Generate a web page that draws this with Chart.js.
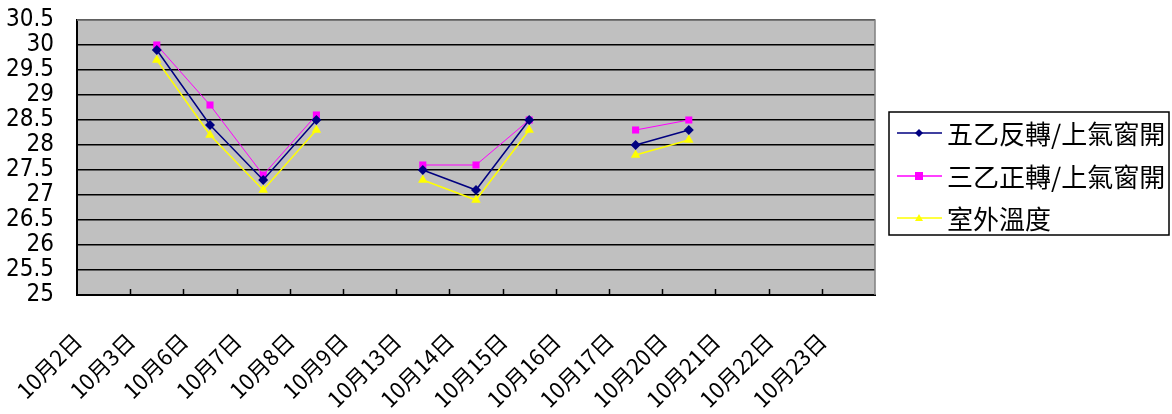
<!DOCTYPE html>
<html lang="zh-Hant">
<head>
<meta charset="utf-8">
<title>溫度比較</title>
<script src="https://cdn.jsdelivr.net/npm/chart.js"></script>
<style>
    html, body { margin: 0; padding: 0; background: #fff; }
    #chartContainer { width: 1172px; height: 414px; position: relative; }
</style>
</head>
<body>

<div id="chartContainer">
    <canvas id="tempChart"></canvas>
</div>

<script>
// categories (x axis)
const dates = ['10月2日', '10月3日', '10月6日', '10月7日', '10月8日', '10月9日', '10月13日',
               '10月14日', '10月15日', '10月16日', '10月17日', '10月20日', '10月21日', '10月22日', '10月23日'];

// series names
const seriesNames = ['五乙反轉/上氣窗開', '三乙正轉/上氣窗開', '室外溫度'];

// values (null = no reading that day)
const wuYiFan   = [null, 29.9, 28.4, 27.3, 28.5, null, 27.5, 27.1, 28.5, null, 28.0, 28.3, null, null, null];
const sanYiZheng = [null, 30.0, 28.8, 27.4, 28.6, null, 27.6, 27.6, 28.5, null, 28.3, 28.5, null, null, null];
const outdoor   = [null, 29.7, 28.2, 27.1, 28.3, null, 27.3, 26.9, 28.3, null, 27.8, 28.1, null, null, null];

// y axis ticks
const yMin = 25;
const yMax = 30.5;
const yStep = 0.5;

// grey plot area + frame
const plotArea = {
    id: 'plotArea',
    beforeDraw(chart) {
        const { ctx, chartArea: a } = chart;
        ctx.save();
        ctx.fillStyle = '#c0c0c0';
        ctx.fillRect(a.left, a.top, a.right - a.left, a.bottom - a.top);
        ctx.restore();
    },
    beforeDatasetsDraw(chart) {
        const { ctx, chartArea: a } = chart;
        ctx.save();
        ctx.strokeStyle = '#808080';
        ctx.lineWidth = 1.5;
        ctx.beginPath();
        ctx.moveTo(a.left, a.top);
        ctx.lineTo(a.right, a.top);
        ctx.lineTo(a.right, a.bottom);
        ctx.stroke();
        // small tick marks pointing up from the x axis, between categories
        const x = chart.scales.x;
        ctx.strokeStyle = '#000';
        ctx.lineWidth = 1.5;
        ctx.beginPath();
        for (let i = 1; i < dates.length; i++) {
            const px = Math.round(x.getPixelForValue(i - 0.5)) + 0.5;
            ctx.moveTo(px, a.bottom);
            ctx.lineTo(px, a.bottom - 6);
        }
        ctx.stroke();
        ctx.restore();
    }
};

// Excel style legend with a border
function drawMarker(ctx, style, x, y, color) {
    ctx.fillStyle = color;
    ctx.beginPath();
    if (style === 'rectRot') {
        ctx.moveTo(x, y - 4); ctx.lineTo(x + 4, y); ctx.lineTo(x, y + 4); ctx.lineTo(x - 4, y);
    } else if (style === 'rect') {
        ctx.rect(x - 4, y - 4, 8, 8);
    } else {
        ctx.moveTo(x, y - 4); ctx.lineTo(x + 4, y + 3); ctx.lineTo(x - 4, y + 3);
    }
    ctx.closePath();
    ctx.fill();
}

const boxLegend = {
    id: 'boxLegend',
    afterDraw(chart) {
        const ctx = chart.ctx;
        ctx.save();
        ctx.fillStyle = '#fff';
        ctx.fillRect(889, 112, 280, 123);
        ctx.strokeStyle = '#000';
        ctx.lineWidth = 1.5;
        ctx.strokeRect(889, 112, 280, 123);
        const rows = [133, 176, 218];
        chart.data.datasets.forEach((ds, i) => {
            const y = rows[i];
            ctx.strokeStyle = ds.borderColor;
            ctx.lineWidth = 1.5;
            ctx.beginPath();
            ctx.moveTo(897, y);
            ctx.lineTo(942, y);
            ctx.stroke();
            drawMarker(ctx, ds.pointStyle, 919, y, ds.borderColor);
            ctx.fillStyle = '#000';
            ctx.font = '26px "Noto Sans CJK TC"';
            ctx.textBaseline = 'middle';
            ctx.textAlign = 'left';
            ctx.fillText(ds.label, 947, y + 1);
        });
        ctx.restore();
    }
};

const ctx = document.getElementById('tempChart').getContext('2d');

new Chart(ctx, {
    type: 'line',
    data: {
        labels: dates,
        datasets: [
            {
                label: seriesNames[0],
                data: wuYiFan,
                borderColor: '#000080',
                backgroundColor: '#000080',
                borderWidth: 1.5,
                pointStyle: 'rectRot',
                pointRadius: 5,
                pointBorderWidth: 0
            },
            {
                label: seriesNames[1],
                data: sanYiZheng,
                borderColor: '#ff00ff',
                backgroundColor: '#ff00ff',
                borderWidth: 1,
                pointStyle: 'rect',
                pointRadius: 5,
                pointBorderWidth: 0
            },
            {
                label: seriesNames[2],
                data: outdoor,
                borderColor: '#ffff00',
                backgroundColor: '#ffff00',
                borderWidth: 1.5,
                pointStyle: 'triangle',
                pointRadius: 5.5,
                pointBorderWidth: 0
            }
        ]
    },
    options: {
        responsive: true,
        maintainAspectRatio: false,
        animation: false,
        spanGaps: false,
        layout: {
            padding: { top: 20, right: 297, bottom: 0, left: 0 }
        },
        plugins: {
            legend: { display: false },
            tooltip: { enabled: false }
        },
        scales: {
            x: {
                type: 'category',
                offset: true,
                grid: { display: false },
                border: { color: '#000', width: 2 },
                afterFit(scale) { scale.height = 119; },
                ticks: {
                    autoSkip: false,
                    minRotation: 45,
                    maxRotation: 45,
                    labelOffset: -26,
                    padding: 25,
                    color: '#000',
                    font: { family: '"Noto Sans CJK TC"', size: 22 }
                }
            },
            y: {
                min: yMin,
                max: yMax,
                grid: { color: '#000', lineWidth: 1.5, drawTicks: false },
                border: { color: '#000', width: 2 },
                afterFit(scale) {
                    scale.width = 77;
                    scale.paddingTop = 0;
                    scale.paddingBottom = 0;
                },
                ticks: {
                    stepSize: yStep,
                    autoSkip: false,
                    padding: 23,
                    color: '#000',
                    font: { family: '"Liberation Sans Narrow", "DejaVu Sans Condensed", sans-serif', size: 24, lineHeight: 1 },
                    callback: v => String(v)
                }
            }
        }
    },
    plugins: [plotArea, boxLegend]
});
</script>

</body>
</html>
